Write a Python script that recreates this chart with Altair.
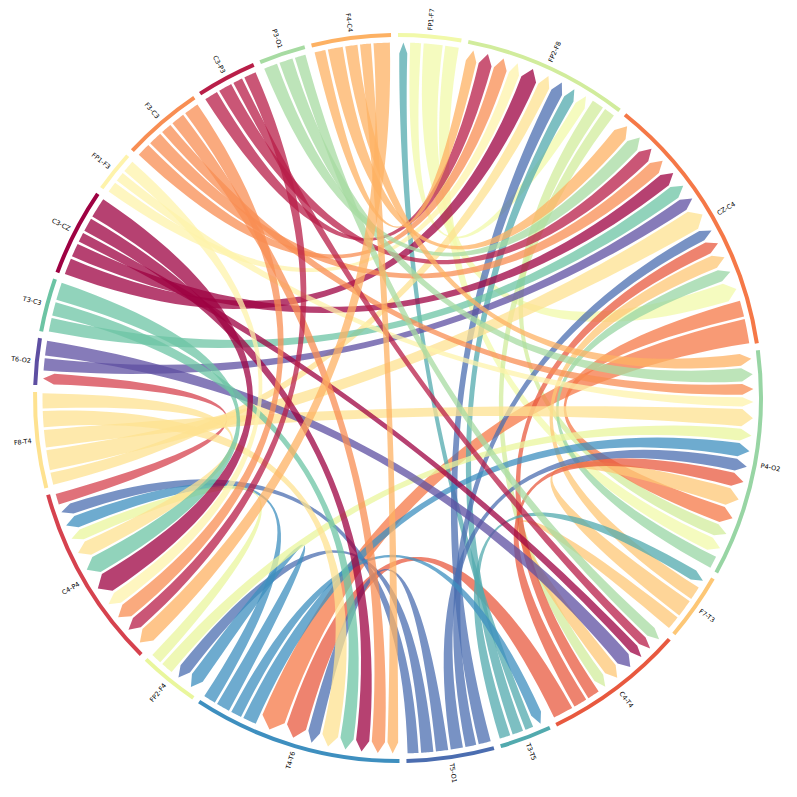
import math
import pandas as pd
import altair as alt

# ---- data ----
nodes = ["FP1-F7", "FP2-F8", "CZ-C4", "P4-O2", "F7-T3", "C4-T4", "T3-T5", "T5-O1",
         "T4-T6", "FP2-F4", "C4-P4", "F8-T4", "T6-O2", "T3-C3", "C3-CZ", "FP1-F3",
         "F3-C3", "C3-P3", "P3-O1", "F4-C4"]
node_colors = ["#f1f9a9", "#d1ec9c", "#f57847", "#98d5a4", "#fdc776", "#e8593f", "#52aaae",
               "#4b6db0", "#3e8fbf", "#e9f69c", "#d6424e", "#fee290", "#5e4fa2", "#6cc4a4",
               "#9e0142", "#fef3ab", "#f88e53", "#b81e48", "#a7dba2", "#fdb163"]

edge_source = ["FP1-F7", "FP1-F7", "FP1-F7",
               "FP2-F8", "FP2-F8",
               "CZ-C4", "CZ-C4",
               "P4-O2",
               "F7-T3", "F7-T3", "F7-T3",
               "C4-T4", "C4-T4", "C4-T4",
               "T3-T5", "T3-T5", "T3-T5",
               "T5-O1", "T5-O1", "T5-O1", "T5-O1", "T5-O1", "T5-O1",
               "T4-T6", "T4-T6", "T4-T6", "T4-T6",
               "FP2-F4", "FP2-F4",
               "C4-P4",
               "F8-T4", "F8-T4", "F8-T4", "F8-T4", "F8-T4",
               "T6-O2", "T6-O2",
               "T3-C3", "T3-C3", "T3-C3",
               "C3-CZ", "C3-CZ", "C3-CZ", "C3-CZ", "C3-CZ",
               "FP1-F3", "FP1-F3", "FP1-F3",
               "F3-C3", "F3-C3", "F3-C3", "F3-C3", "F3-C3",
               "C3-P3", "C3-P3", "C3-P3", "C3-P3",
               "P3-O1", "P3-O1", "P3-O1",
               "F4-C4", "F4-C4", "F4-C4", "F4-C4", "F4-C4"]
edge_target = ["FP2-F8", "CZ-C4", "P4-O2",
               "P4-O2", "C4-T4",
               "P4-O2", "T4-T6",
               "CZ-C4",
               "CZ-C4", "P4-O2", "C4-T4",
               "CZ-C4", "P4-O2", "T4-T6",
               "FP1-F7", "FP2-F8", "F7-T3",
               "FP2-F8", "CZ-C4", "P4-O2", "T4-T6", "FP2-F4", "C4-P4",
               "P4-O2", "T3-T5", "FP2-F4", "C4-P4",
               "P4-O2", "C4-P4",
               "T6-O2",
               "FP2-F8", "CZ-C4", "P4-O2", "T4-T6", "C4-P4",
               "CZ-C4", "C4-T4",
               "CZ-C4", "T4-T6", "C4-P4",
               "FP2-F8", "CZ-C4", "C4-T4", "T4-T6", "C4-P4",
               "FP2-F8", "P4-O2", "C4-P4",
               "FP2-F8", "CZ-C4", "P4-O2", "T4-T6", "C4-P4",
               "FP2-F8", "CZ-C4", "C4-T4", "C4-P4",
               "CZ-C4", "P4-O2", "C4-T4",
               "FP2-F8", "CZ-C4", "P4-O2", "T4-T6", "C4-P4"]
edge_value = [10, 16, 12,
              11, 10,
              14, 20,
              11,
              12, 15, 12,
              11, 12, 17,
              8, 10, 10,
              11, 10, 11, 11, 11, 10,
              12, 10, 12, 11,
              11, 10,
              10,
              11, 17, 15, 14, 13,
              11, 13,
              12, 12, 15,
              14, 12, 9, 12, 17,
              10, 9, 11,
              12, 12, 10, 12, 13,
              12, 12, 9, 11,
              12, 12, 10,
              10, 13, 11, 10, 14]

# ---- directed chord layout (d3.chordDirected style) ----
n = len(nodes)
idx = {name: i for i, name in enumerate(nodes)}
M = [[0.0] * n for _ in range(n)]
for s, t, v in zip(edge_source, edge_target, edge_value):
    M[idx[s]][idx[t]] += v

group_pad = math.radians(1.1)
total = 2 * sum(edge_value)
k = (2 * math.pi - n * group_pad) / total

groups = []
src_ang = {}
tgt_ang = {}
x = 0.0
for i in range(n):
    x0 = x
    for j in range(n - 1, -1, -1):          # incoming, source index descending
        if M[j][i] > 0:
            tgt_ang[(j, i)] = (x, x + M[j][i] * k)
            x += M[j][i] * k
    for j in range(n):                      # outgoing, target index ascending
        if M[i][j] > 0:
            src_ang[(i, j)] = (x, x + M[i][j] * k)
            x += M[i][j] * k
    groups.append((x0, x))
    x += group_pad

R = 355.5
HEAD = 11.0
RPAD = 2.6 / R


def pt(a, r):
    return (r * math.sin(a), r * math.cos(a))


def quad(p0, p2, steps=40):
    out = []
    for s in range(1, steps + 1):
        t = s / steps
        xq = (1 - t) ** 2 * p0[0] + t ** 2 * p2[0]
        yq = (1 - t) ** 2 * p0[1] + t ** 2 * p2[1]
        out.append((xq, yq))
    return out


rows = []
cid = 0
for i in range(n):
    for j in range(n):
        if M[i][j] <= 0:
            continue
        sa0, sa1 = src_ang[(i, j)]
        ta0, ta1 = tgt_ang[(i, j)]
        sa0 += RPAD / 2; sa1 -= RPAD / 2
        ta0 += RPAD / 2; ta1 -= RPAD / 2
        pts = []
        m = 8
        for q in range(m + 1):
            pts.append(pt(sa0 + (sa1 - sa0) * q / m, R))
        pts += quad(pts[-1], pt(ta0, R - HEAD))
        pts.append(pt((ta0 + ta1) / 2, R))
        pts.append(pt(ta1, R - HEAD))
        pts += quad(pts[-1], pt(sa0, R))
        for o, (px, py) in enumerate(pts):
            rows.append({"cid": cid, "i": o, "x": px, "y": py,
                         "color": node_colors[i]})
        cid += 1
chords_df = pd.DataFrame(rows)

ring_df = pd.DataFrame({
    "name": nodes,
    "a0": [g[0] for g in groups],
    "a1": [g[1] for g in groups],
    "color": node_colors,
})

LR = 369.0
lab = []
for name, (a0, a1) in zip(nodes, groups):
    am = (a0 + a1) / 2
    deg = math.degrees(am)
    px, py = pt(am, LR)
    right = deg < 180
    rot = deg - 90 if right else deg - 270
    lab.append({"name": name, "x": px, "y": py, "rot": rot, "side": "r" if right else "l"})
lab_df = pd.DataFrame(lab)

xs = alt.Scale(domain=[-390, 390], nice=False, zero=False)
ys = alt.Scale(domain=[-390, 390], nice=False, zero=False)

chords = alt.Chart(chords_df).mark_line(
    filled=True, opacity=0.75, strokeWidth=0, interpolate="linear"
).encode(
    x=alt.X("x:Q", scale=xs, axis=None),
    y=alt.Y("y:Q", scale=ys, axis=None),
    detail="cid:N",
    order="i:Q",
    color=alt.Color("color:N", scale=None, legend=None),
)

ring = alt.Chart(ring_df).mark_arc(radius=365, radius2=361).encode(
    theta=alt.Theta("a0:Q", scale=None),
    theta2="a1:Q",
    color=alt.Color("color:N", scale=None, legend=None),
)

lab_r = alt.Chart(lab_df[lab_df.side == "r"]).mark_text(
    align="left", baseline="middle", font="DejaVu Sans", fontSize=6.5, color="#000"
).encode(
    x=alt.X("x:Q", scale=xs, axis=None),
    y=alt.Y("y:Q", scale=ys, axis=None),
    angle=alt.Angle("rot:Q", scale=None),
    text="name:N",
)
lab_l = alt.Chart(lab_df[lab_df.side == "l"]).mark_text(
    align="right", baseline="middle", font="DejaVu Sans", fontSize=6.5, color="#000"
).encode(
    x=alt.X("x:Q", scale=xs, axis=None),
    y=alt.Y("y:Q", scale=ys, axis=None),
    angle=alt.Angle("rot:Q", scale=None),
    text="name:N",
)

chart = alt.layer(chords, ring, lab_r, lab_l).properties(
    width=780, height=780, padding=0, autosize="none"
).configure_view(stroke=None)

chart.save("out.html", embed_options={"renderer": "svg", "actions": False})
